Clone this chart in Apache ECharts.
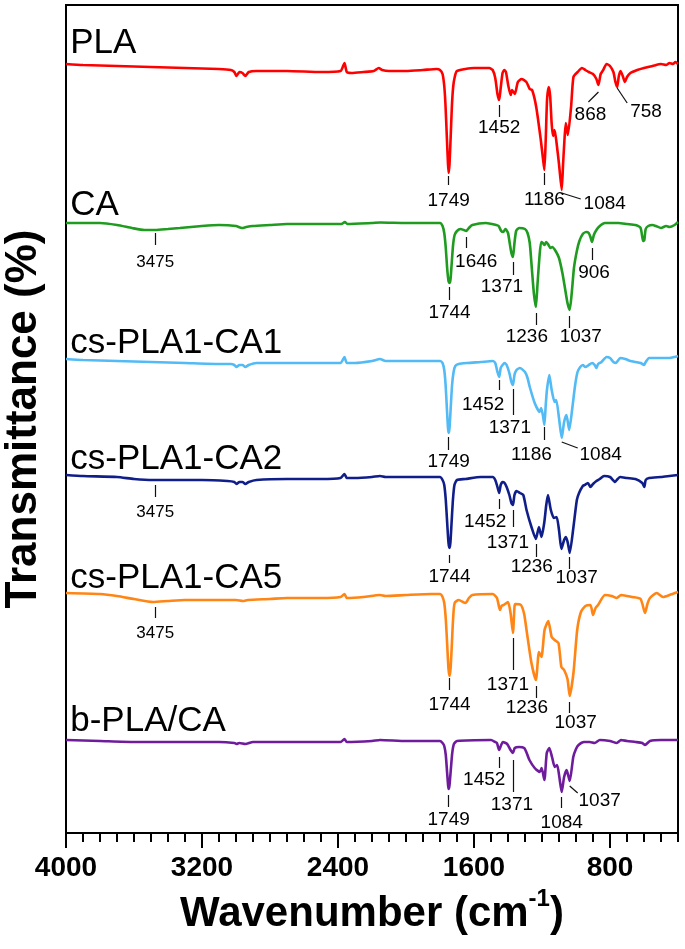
<!DOCTYPE html>
<html>
<head>
<meta charset="utf-8">
<script src="https://cdn.jsdelivr.net/npm/echarts@6/dist/echarts.min.js"></script>
<style>
html,body{margin:0;padding:0;background:#fff;}
#chart{width:685px;height:949px;}
</style>
</head>
<body>
<div id="chart"></div>
<script>
// ---- data ----
const seriesNames = ['PLA', 'CA', 'cs-PLA1-CA1', 'cs-PLA1-CA2', 'cs-PLA1-CA5', 'b-PLA/CA'];
const stackOffsets = [769, 610, 473, 358, 239, 92];   // vertical offset of each stacked spectrum (a.u.)
const xTickValues = [4000, 3200, 2400, 1600, 800];

// [wavenumber (cm-1), relative transmittance (a.u.)]
const specPLA = [[4000,0],[3900,-1],[3700,-2],[3500,-3],[3300,-4],[3100,-5],[3030,-6],[3010,-8],[2997,-12],[2980,-8],[2962,-9],[2945,-12],[2925,-8],[2880,-7],[2700,-7],[2500,-8],[2385,-7],[2362,1],[2348,-8],[2320,-9],[2250,-8],[2190,-7],[2160,-4],[2140,-6],[2100,-7],[2000,-7],[1900,-6],[1820,-5],[1800,-6],[1785,-10],[1775,-22],[1768,-40],[1760,-72],[1753,-100],[1749,-109],[1744,-100],[1737,-72],[1730,-42],[1722,-22],[1712,-12],[1700,-7],[1600,-4],[1510,-4],[1490,-6],[1475,-14],[1462,-30],[1452,-36],[1443,-24],[1432,-9],[1422,-6],[1412,-8],[1398,-22],[1384,-31],[1376,-26],[1360,-30],[1342,-18],[1320,-15],[1292,-18],[1272,-25],[1258,-26],[1234,-43],[1207,-76],[1194,-95],[1186,-106],[1178,-75],[1170,-35],[1160,-23],[1152,-32],[1143,-60],[1135,-72],[1126,-66],[1115,-78],[1100,-100],[1084,-126],[1076,-100],[1068,-76],[1060,-59],[1048,-71],[1029,-43],[1015,-13],[990,-8],[965,-4],[945,-6],[925,-8],[900,-10],[880,-15],[868,-21],[855,-10],[840,-6],[820,0],[800,-2],[780,-8],[768,-18],[758,-23],[748,-12],[738,-7],[725,-12],[712,-18],[700,-13],[680,-9],[640,-6],[600,-4],[550,-2],[500,0],[470,-1],[450,1],[430,0],[415,2],[400,0]];

const specCA = [[4000,0],[3900,0],[3800,0],[3700,-2],[3612,-5],[3540,-7],[3475,-7],[3400,-6],[3330,-5],[3200,-3],[3100,-2],[3000,-3],[2965,-5],[2940,-4],[2900,-3],[2800,-2],[2700,-1],[2500,-1],[2380,-1],[2360,1],[2345,-1],[2200,0],[2150,0.5],[2000,0],[1850,0],[1800,0],[1785,-3],[1775,-10],[1766,-25],[1758,-45],[1750,-58],[1744,-60],[1738,-56],[1731,-40],[1723,-22],[1714,-12],[1700,-8],[1680,-6],[1660,-7],[1646,-8],[1630,-5],[1610,-2],[1530,0],[1470,-2],[1455,-3],[1440,-8],[1428,-9],[1415,-6],[1400,-10],[1390,-20],[1380,-30],[1371,-34],[1362,-20],[1352,-8],[1335,-5],[1300,-6],[1285,-10],[1272,-20],[1260,-45],[1248,-70],[1236,-84],[1226,-60],[1215,-34],[1205,-19],[1195,-20],[1185,-22],[1175,-19],[1165,-21],[1150,-25],[1140,-24],[1120,-28],[1100,-35],[1080,-50],[1065,-65],[1050,-80],[1037,-87],[1025,-70],[1012,-45],[995,-28],[980,-18],[960,-11],[940,-9],[925,-10],[915,-14],[906,-19],[895,-12],[880,-7],[860,-3],[830,0],[750,0],[700,-1],[650,-2],[620,-5],[605,-18],[598,-17],[590,-6],[575,-3],[550,-2],[530,-3],[500,-5],[470,-3],[450,-4],[420,-2],[400,1]];

const specCA1 = [[4000,1],[3900,0],[3700,-1],[3500,-2],[3300,-3],[3100,-4],[3030,-4],[3010,-5],[2997,-7],[2980,-5],[2962,-5],[2945,-7],[2925,-5],[2880,-3],[2700,-3],[2500,-3],[2385,-3],[2362,3],[2348,-3],[2300,-3],[2200,-1],[2153,1],[2120,-1],[2000,-1],[1850,-1],[1800,-1],[1785,-3],[1775,-10],[1767,-25],[1759,-50],[1753,-68],[1749,-73],[1744,-68],[1737,-48],[1729,-25],[1720,-12],[1710,-6],[1690,-4],[1640,-3],[1560,-2],[1490,-1],[1475,-3],[1462,-12],[1452,-17],[1443,-8],[1432,-5],[1420,-3],[1408,-5],[1392,-13],[1380,-22],[1371,-25],[1362,-15],[1350,-10],[1330,-8],[1300,-12],[1285,-18],[1272,-27],[1243,-43],[1214,-52],[1205,-48],[1195,-55],[1186,-65],[1178,-45],[1171,-30],[1157,-15],[1143,-30],[1126,-42],[1116,-40],[1100,-58],[1084,-78],[1070,-62],[1056,-55],[1040,-70],[1021,-47],[1005,-25],[991,-12],[975,-7],[960,-5],[945,-7],[925,-5],[905,-3],[890,-5],[880,-8],[870,-4],[850,-2],[820,3],[800,2],[780,-2],[765,-3],[755,-1],[740,2],[710,1],[680,-1],[650,-2],[620,-3],[600,-5],[590,-2],[570,2],[500,2],[450,2],[420,3],[400,4]];

const specCA2 = [[4000,0],[3900,-1],[3700,-2],[3600,-4],[3488,-5],[3400,-5],[3200,-5],[3050,-6],[3010,-7],[2997,-9],[2980,-7],[2962,-7],[2945,-9],[2925,-7],[2880,-5],[2700,-4],[2500,-4],[2385,-3],[2362,1],[2348,-3],[2300,-3],[2200,-2],[2153,-1],[2120,-2],[2000,-2],[1850,-2],[1800,-2],[1785,-5],[1775,-10],[1766,-25],[1757,-50],[1750,-68],[1744,-73],[1739,-68],[1732,-48],[1724,-25],[1715,-10],[1700,-5],[1650,-4],[1560,-2],[1490,-2],[1475,-5],[1462,-12],[1452,-18],[1443,-10],[1432,-7],[1420,-8],[1408,-12],[1392,-20],[1380,-28],[1371,-30],[1362,-20],[1350,-16],[1330,-18],[1310,-20],[1291,-35],[1262,-52],[1236,-64],[1218,-52],[1203,-62],[1187,-48],[1175,-30],[1165,-20],[1148,-35],[1130,-43],[1114,-42],[1100,-55],[1086,-74],[1070,-65],[1059,-62],[1048,-68],[1037,-78],[1015,-52],[995,-25],[982,-18],[960,-11],[949,-10],[930,-8],[915,-12],[900,-9],[880,-6],[860,-4],[835,-1],[800,-2],[770,-7],[755,-4],[740,-2],[700,-3],[650,-4],[610,-8],[598,-12],[590,-5],[570,-3],[500,-2],[450,-1],[400,0]];

const specCA5 = [[4000,1],[3800,0],[3700,-2],[3600,-5],[3488,-8],[3400,-7],[3300,-6],[3100,-6],[3000,-6],[2959,-7],[2930,-6],[2800,-5],[2700,-4],[2500,-4],[2385,-3],[2362,0],[2348,-4],[2250,-3],[2153,-1],[2120,-2],[2000,-1],[1850,0],[1800,0],[1785,-3],[1775,-9],[1766,-25],[1757,-53],[1750,-75],[1744,-82],[1738,-75],[1731,-53],[1723,-25],[1714,-9],[1690,-6],[1650,-9],[1630,-4],[1610,-1],[1490,0],[1465,-4],[1447,-16],[1438,-12],[1425,-11],[1400,-8],[1385,-19],[1371,-39],[1362,-13],[1357,-10],[1324,-11],[1305,-20],[1291,-36],[1262,-69],[1236,-86],[1218,-58],[1203,-63],[1185,-36],[1163,-27],[1143,-43],[1126,-46],[1103,-49],[1086,-73],[1070,-76],[1050,-85],[1037,-102],[1015,-79],[993,-36],[971,-18],[945,-12],[915,-11],[900,-21],[885,-14],[870,-11],[830,-1],[790,-2],[760,-4],[735,-1],[700,-2],[670,-3],[620,-5],[594,-19],[580,-10],[565,-4],[525,1],[488,-3],[450,-1],[400,2]];

const specB = [[4000,1],[3800,0],[3600,-1],[3400,-1],[3100,-1],[3010,-2],[2997,-3],[2980,-2],[2945,-3],[2900,-1],[2700,-1],[2385,-1],[2362,2],[2348,-1],[2200,0],[2153,1],[2000,0],[1800,0],[1785,-2],[1775,-5],[1766,-14],[1758,-32],[1752,-45],[1749,-48],[1744,-44],[1737,-30],[1728,-12],[1718,-3],[1700,0],[1500,1],[1475,-1],[1465,-2],[1452,-9],[1440,-4],[1430,-1],[1405,-3],[1385,-9],[1371,-12],[1360,-7],[1335,-6],[1305,-7],[1290,-12],[1274,-19],[1243,-27],[1213,-31],[1202,-27],[1186,-39],[1172,-12],[1157,-7],[1141,-16],[1125,-26],[1111,-24],[1098,-36],[1084,-51],[1070,-36],[1055,-29],[1037,-40],[1016,-16],[1000,-8],[985,-4],[953,-1],[920,-1],[890,-2],[860,1],[800,0],[760,-2],[735,1],[700,0],[650,-1],[610,-2],[594,-4],[565,0],[500,1],[450,1],[400,1]];

const spectra = [specPLA, specCA, specCA1, specCA2, specCA5, specB];

// ---- styling / layout ----
const colors = ['#FF0000', '#1F9B1F', '#52BAF5', '#101E8A', '#FF8515', '#6F1C9C'];
const nameOffset = [21, 18, 17, 16, 16, 20];
const nameWn = 3978;

// peak annotations: [series, text, w1, r1, w2, r2, labelW, labelR, fontSize]
const peakMarks = [
  [0,'1749',1749,-112,1749,-121,1749,-137,19],
  [0,'1452',1452,-41,1452,-53,1452,-64,19],
  [0,'1186',1186,-109,1186,-121,1186,-136,19],
  [0,'1084',1084,-129,972,-135,831,-140,19],
  [0,'868',868,-28,927,-38,915,-51,19],
  [0,'758',758,-24,699,-39,588,-48,19],
  [1,'3475',3475,-10,3475,-22,3475,-39,17],
  [1,'1744',1744,-64,1744,-77,1744,-90,19],
  [1,'1646',1646,-14,1646,-25,1587,-39,19],
  [1,'1371',1371,-39,1371,-52,1436,-64,19],
  [1,'1236',1236,-90,1236,-102,1289,-114,19],
  [1,'1037',1037,-93,1037,-105,972,-114,19],
  [1,'906',906,-25,906,-37,894,-50,19],
  [2,'1749',1749,-77,1749,-90,1749,-102,19],
  [2,'1452',1452,-20,1452,-30,1546,-45,19],
  [2,'1371',1371,-29,1371,-55,1389,-68,19],
  [2,'1186',1186,-67,1186,-80,1262,-95,19],
  [2,'1084',1084,-82,990,-88,855,-95,19],
  [3,'3475',3475,-10,3475,-22,3475,-37,17],
  [3,'1744',1744,-80,1744,-88,1744,-102,19],
  [3,'1452',1452,-24,1452,-34,1534,-47,19],
  [3,'1371',1371,-35,1371,-52,1400,-68,19],
  [3,'1236',1236,-69,1236,-82,1260,-92,19],
  [3,'1037',1037,-82,1037,-94,996,-103,19],
  [4,'3475',3475,-13,3475,-24,3475,-39,17],
  [4,'1744',1744,-84,1744,-96,1744,-111,19],
  [4,'1371',1371,-44,1371,-76,1400,-91,19],
  [4,'1236',1236,-92,1236,-104,1289,-114,19],
  [4,'1037',1037,-108,1037,-119,1002,-129,19],
  [5,'1749',1749,-54,1749,-66,1749,-79,19],
  [5,'1452',1452,-16,1452,-27,1540,-39,19],
  [5,'1371',1371,-19,1371,-51,1377,-64,19],
  [5,'1084',1084,-56,1084,-67,1084,-82,19],
  [5,'1037',1037,-45,990,-52,861,-60,19]
];

const FONT = "'Liberation Sans', Arial, Helvetica, sans-serif";

const series = spectra.map((sp, i) => ({
  type: 'line',
  name: seriesNames[i],
  data: sp.map(p => [p[0], stackOffsets[i] + p[1]]),
  showSymbol: false,
  smooth: 0.2,
  lineStyle: { color: colors[i], width: 2.6 },
  z: 3,
  silent: true
}));

series.push({
  type: 'lines',
  coordinateSystem: 'cartesian2d',
  polyline: false,
  silent: true,
  z: 2,
  lineStyle: { color: '#111', width: 1.2, opacity: 1 },
  data: peakMarks.map(m => ({
    coords: [[m[2], stackOffsets[m[0]] + m[3]], [m[4], stackOffsets[m[0]] + m[5]]]
  }))
});

// peak labels (centred on their anchor)
series.push({
  type: 'scatter',
  silent: true,
  symbolSize: 1,
  itemStyle: { color: 'rgba(0,0,0,0)' },
  z: 4,
  label: {
    show: true, position: 'inside', color: '#000', fontFamily: FONT,
    align: 'center', verticalAlign: 'middle', textBorderWidth: 0, opacity: 1
  },
  data: peakMarks.map(m => ({
    value: [m[6], stackOffsets[m[0]] + m[7]],
    label: { formatter: m[1], fontSize: m[8] }
  }))
});

// spectrum names (left aligned, to the right of their anchor)
series.push({
  type: 'scatter',
  silent: true,
  symbolSize: 1,
  itemStyle: { color: 'rgba(0,0,0,0)' },
  z: 4,
  label: {
    show: true, position: 'right', distance: 0, color: '#000', fontFamily: FONT,
    fontSize: 35, textBorderWidth: 0, opacity: 1
  },
  data: seriesNames.map((n, i) => ({
    value: [nameWn, stackOffsets[i] + nameOffset[i]],
    label: { formatter: n }
  }))
});

const axisCommon = { type: 'value', min: 400, max: 4000, inverse: true, position: 'bottom', splitLine: { show: false } };

const option = {
  animation: false,
  backgroundColor: '#fff',
  grid: { left: 66, right: 7, top: 5, bottom: 116, outerBoundsMode: 'none', containLabel: false, show: true, borderColor: '#000', borderWidth: 2, backgroundColor: 'transparent' },
  xAxis: [
    Object.assign({}, axisCommon, {
      axisLine: { show: true, lineStyle: { color: '#000', width: 2 } },
      axisTick: { show: true, inside: false, length: 15, lineStyle: { color: '#000', width: 2 }, customValues: xTickValues },
      axisLabel: { show: true, customValues: xTickValues, formatter: v => String(v), margin: 21, color: '#000', fontSize: 28, fontWeight: 'bold', fontFamily: FONT },
      name: '{a|Wavenumber (cm}{b|-1}{a|)}',
      nameLocation: 'middle',
      nameGap: 53,
      nameTextStyle: {
        rich: {
          a: { fontSize: 42, fontWeight: 'bold', fontFamily: FONT, color: '#000', lineHeight: 49, verticalAlign: 'bottom' },
          b: { fontSize: 24, fontWeight: 'bold', fontFamily: FONT, color: '#000', lineHeight: 24, verticalAlign: 'top' }
        }
      }
    }),
    Object.assign({}, axisCommon, {
      interval: 100,
      axisLine: { show: false },
      axisTick: { show: true, inside: false, length: 9, lineStyle: { color: '#000', width: 2 } },
      axisLabel: { show: false }
    })
  ],
  yAxis: {
    type: 'value', min: 0, max: 828,
    axisLine: { show: false }, axisTick: { show: false }, axisLabel: { show: false }, splitLine: { show: false },
    name: 'Transmittance (%)', nameLocation: 'middle', nameGap: 20, nameRotate: 90,
    nameTextStyle: { fontSize: 44, fontWeight: 'bold', fontFamily: FONT, color: '#000' }
  },
  series: series
};

const chart = echarts.init(document.getElementById('chart'), null, { renderer: 'canvas' });
chart.setOption(option);
</script>
</body>
</html>
